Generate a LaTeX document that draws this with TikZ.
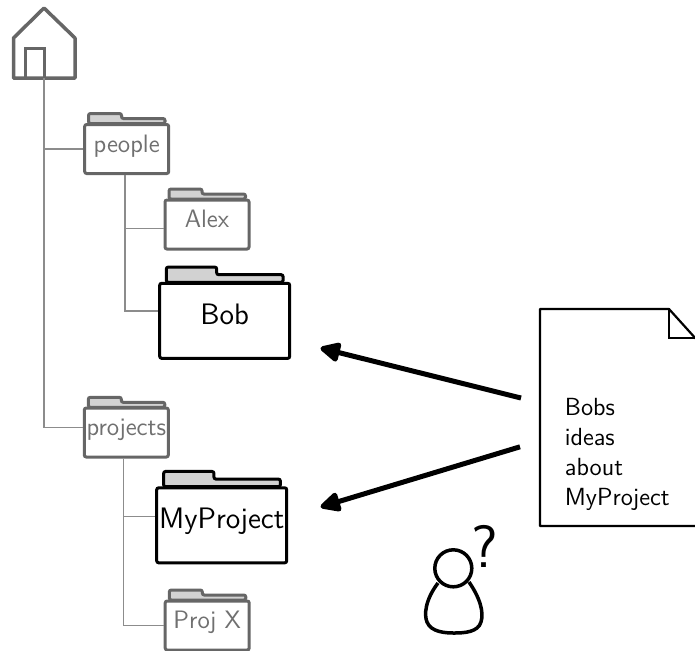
\documentclass[tikz,border=0pt]{standalone}
\usepackage{tikz}
\usetikzlibrary{arrows.meta}
\renewcommand{\familydefault}{\sfdefault}
\definecolor{dimline}{HTML}{666666}
\definecolor{dimtext}{HTML}{707070}
\definecolor{tabgray}{HTML}{D2D2D2}
\definecolor{branchgray}{HTML}{8C8C8C}
\tikzset{
  folder/.style={draw=dimline,line width=1.5pt,rounded corners=1pt,fill=white,inner sep=0pt,
    minimum width=42pt,minimum height=24.5pt,text=dimtext,text height=7pt,text depth=4pt,
    font=\fontsize{12.6}{14}\selectfont},
  bigfolder/.style={folder,draw=black,text=black,minimum width=65pt,minimum height=37.5pt,
    text height=8pt,text depth=4.5pt,font=\fontsize{14.8}{16}\selectfont},
  branch/.style={draw=branchgray,line width=0.6pt},
  bigarrow/.style={line width=2.5pt,black,-{Triangle[length=11.5pt,width=10.5pt,round]}},
  pics/foldertab/.style={code={
    \draw[draw=#1,fill=tabgray,line width=1.5pt,rounded corners=1pt]
      (5,0)--(5,-10)--(38,-10)--(38,-5)--(81.5,-5)--(81.5,0)--cycle;
  }}
}
\begin{document}
\begin{tikzpicture}[x=0.5pt,y=-0.5pt]
    \clip (0,0) rectangle (695,650);
    % home
    \draw[dimline,line width=1.75pt,line join=round] (13.5,78)--(13.5,38)--(44,8)--(75,38)--(75,78)--cycle;
    \draw[dimline,line width=1.5pt] (25,78)--(25,48.7)--(44.5,48.7)--(44.5,78);
    \coordinate (home) at (44,78);
    % tabs first, then the folders on top
    \pic at (83.5,123.5) {foldertab=dimline};
    \pic at (164,199) {foldertab=dimline};
    \pic[scale=1.526] at (158.7,282.3) {foldertab=black};
    \pic at (83.3,407.3) {foldertab=dimline};
    \pic[scale=1.526] at (156,486.7) {foldertab=black};
    \pic at (164.3,600) {foldertab=dimline};
    \node[folder] (people) at (126.7,149) {people};
    \node[folder] (alex) at (207,224.5) {Alex};
    \node[bigfolder] (bob) at (224.7,320.8) {Bob};
    \node[folder] (projects) at (126.3,432.5) {projects};
    \node[bigfolder] (myproject) at (221.7,525.3) {MyProject};
    \node[folder] (projx) at (207.2,625.5) {Proj X};
    % tree
    \draw[branch] (home) |- (people.west);
    \draw[branch] (home) |- ([yshift=2.4pt]projects.west);
    \draw[branch] ([xshift=-0.9pt]people.south) |- ([yshift=-2.1pt]alex.west);
    \draw[branch] ([xshift=-0.9pt]people.south) |- ([yshift=4.9pt]bob.west);
    \draw[branch] ([xshift=-1.5pt]projects.south) |- ([yshift=4.3pt]myproject.west);
    \draw[branch] ([xshift=-1.5pt]projects.south) |- (projx.west);
    % paper
    \draw[line width=1.1pt,line join=round] (725,526)--(540,526)--(540,309)--(669,309)--(725,371);
    \draw[line width=1.1pt] (669,309)--(669,338)--(725,338);
    \node[anchor=west,align=left,inner sep=0pt,font=\fontsize{12.4}{15}\selectfont] (note) at (564.5,454)
      {Bobs\\ideas\\about\\MyProject};
    \draw[bigarrow] ([shift={(-21.75pt,28pt)}]note.west)--([shift={(14.65pt,-13.6pt)}]bob.east);
    \draw[bigarrow] ([shift={(-22.25pt,3.6pt)}]note.west)--([shift={(16.2pt,9.15pt)}]myproject.east);
    % person
    \draw[line width=1.75pt] (438,583) .. controls (425,600) and (424,615) .. (427,622)
      .. controls (431,632) and (445,633) .. (454,633)
      .. controls (465,633) and (478,632) .. (481,622)
      .. controls (484,612) and (480,598) .. (469,582);
    \node[circle,draw,line width=1.75pt,fill=white,minimum size=18.5pt,inner sep=0pt] (head) at (453.3,568.3) {};
    \node[inner sep=0pt,font=\fontsize{30}{30}\selectfont] (question) at (485,546) {?};
  \end{tikzpicture}
\end{document}
